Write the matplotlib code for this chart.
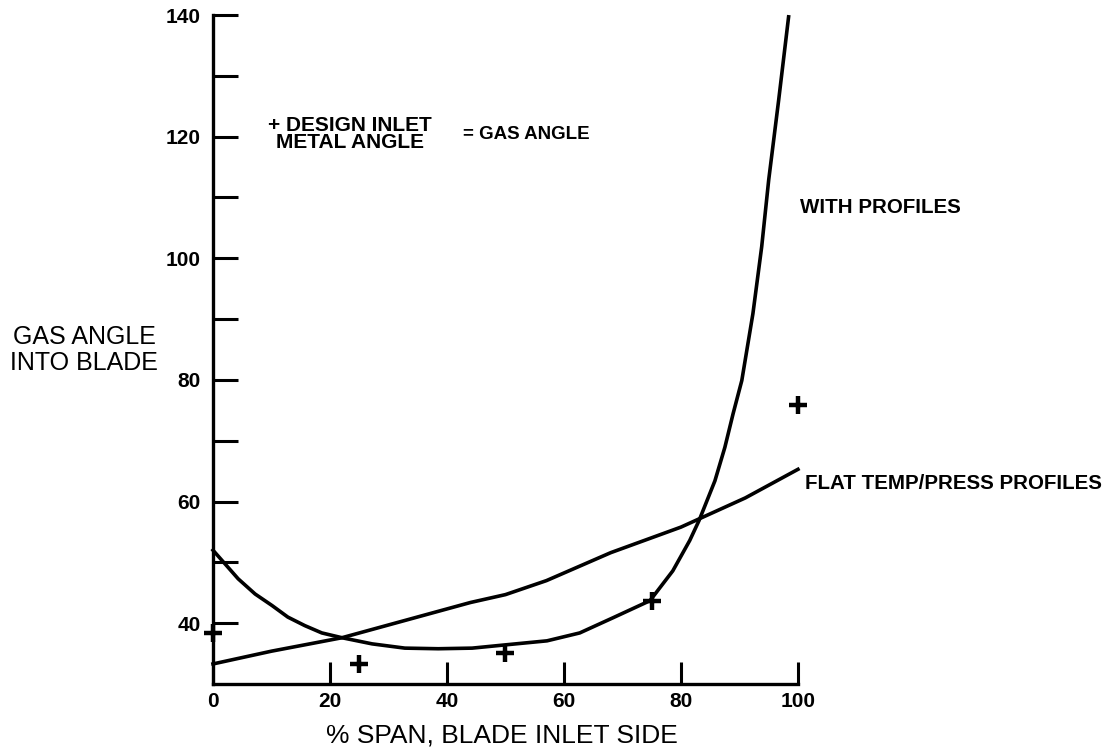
import matplotlib
matplotlib.use("Agg")
import matplotlib.pyplot as plt

plt.rcParams['font.family'] = ['Liberation Sans', 'DejaVu Sans']

# % span vs gas angle
span_flat = [0, 10, 22, 33, 44, 50, 57, 68, 80, 91, 100]
angle_flat = [33.3, 35.4, 37.6, 40.5, 43.4, 44.7, 47.0, 51.6, 55.8, 60.6, 65.3]

span_prof = [0, 4.3, 7.2, 10.1, 12.8, 15.7, 18.6, 22.1, 27.2, 32.8, 38.5, 44.3, 49.6,
             57.1, 62.7, 68.4, 74.7, 78.6, 81.5, 83.1, 85.8, 87.5, 88.9, 90.4, 92.3,
             93.8, 95.0, 96.7, 98.4]
angle_prof = [52.0, 47.3, 44.8, 42.9, 41.0, 39.6, 38.4, 37.6, 36.6, 35.9, 35.8, 35.9, 36.4,
              37.1, 38.4, 40.9, 43.7, 48.6, 53.6, 56.9, 63.4, 68.9, 74.4, 79.9, 90.9,
              101.9, 112.9, 126.0, 139.7]

span_design = [0, 25, 50, 75, 100]
angle_design = [38.4, 33.3, 35.1, 43.7, 75.8]

xticks = [0, 20, 40, 60, 80, 100]
yticks_major = [40, 60, 80, 100, 120, 140]
yticks_minor = [50, 70, 90, 110, 130]

fig = plt.figure(figsize=(11.14, 7.51), dpi=100)
ax = fig.add_axes([0.1912, 0.0892, 0.5251, 0.8908])

ax.plot(span_flat, angle_flat, color='black', lw=2.6, clip_on=False,
        solid_joinstyle='round')
ax.plot(span_prof, angle_prof, color='black', lw=2.6, clip_on=False,
        solid_joinstyle='round')
ax.plot(span_design, angle_design, ls='none', marker='+', ms=13, mew=3.2,
        color='black', clip_on=False)

ax.set_xlim(0, 100)
ax.set_ylim(30, 140)
for s in ['top', 'right']:
    ax.spines[s].set_visible(False)
for s in ['left', 'bottom']:
    ax.spines[s].set_linewidth(2.4)

ax.set_xticks(xticks)
ax.set_xticklabels([str(v) for v in xticks])
ax.set_yticks(yticks_major)
ax.set_yticklabels([str(v) for v in yticks_major])
ax.set_yticks(yticks_minor, minor=True)
ax.tick_params(axis='y', which='both', direction='in', length=18, width=2.2,
               labelsize=15, pad=9)
ax.tick_params(axis='x', which='both', direction='in', length=16, width=2.2,
               labelsize=15, pad=6)
for lab in ax.get_xticklabels() + ax.get_yticklabels():
    lab.set_fontweight('bold')

ax.text(23.4, 120.4, '+ DESIGN INLET\nMETAL ANGLE', ha='center', va='center',
        fontsize=15, fontweight='bold', linespacing=0.88)
ax.text(42.7, 120.4, '= GAS ANGLE', ha='left', va='center',
        fontsize=13.5, fontweight='bold')
ax.text(100.3, 108.4, 'WITH PROFILES', ha='left', va='center',
        fontsize=14.8, fontweight='bold', clip_on=False)
ax.text(101.2, 63, 'FLAT TEMP/PRESS PROFILES', ha='left', va='center',
        fontsize=14.8, fontweight='bold', clip_on=False)

fig.text(0.0754, 0.534, 'GAS ANGLE\nINTO BLADE', ha='center', va='center',
         fontsize=18, linespacing=1.15)
fig.text(0.451, 0.021, '% SPAN, BLADE INLET SIDE', ha='center', va='center',
         fontsize=19)

fig.savefig('out.png', dpi=100)
